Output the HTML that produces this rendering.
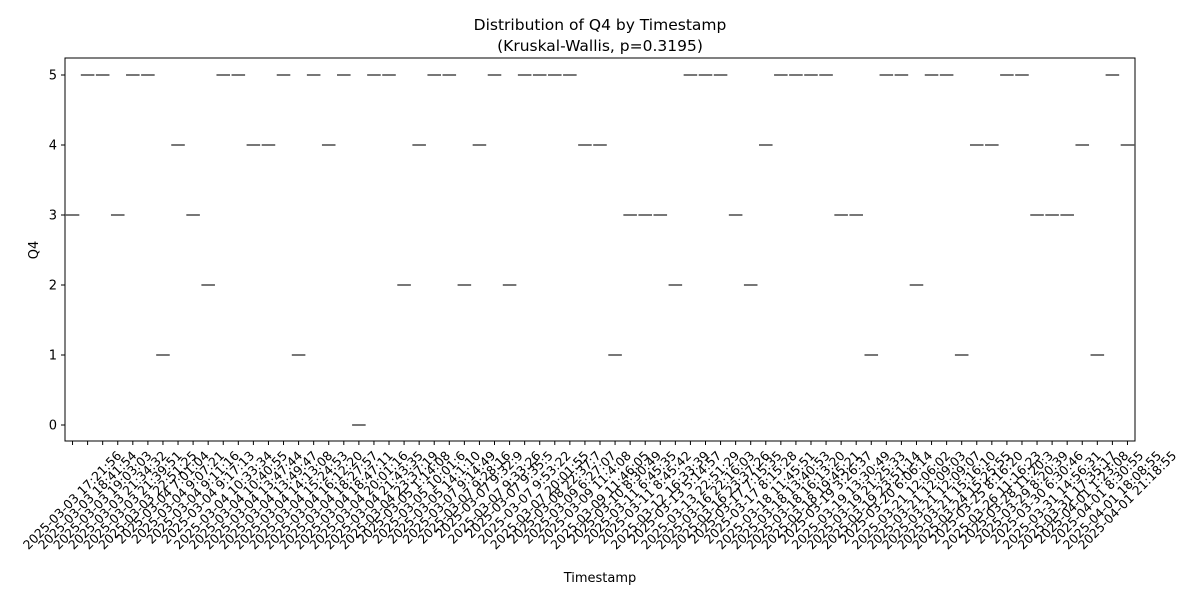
<!DOCTYPE html>
<html><head><meta charset="utf-8"><style>
body{margin:0;background:#fff;}
svg text{font-family:"DejaVu Sans","Liberation Sans",sans-serif;fill:#000;}
</style></head><body>
<svg id="chart" width="1200" height="600" xmlns="http://www.w3.org/2000/svg">
<rect width="1200" height="600" fill="#fff"/>
<text x="600" y="30" font-size="15.5" text-anchor="middle">Distribution of Q4 by Timestamp</text>
<text x="600" y="51" font-size="15.5" text-anchor="middle">(Kruskal-Wallis, p=0.3195)</text>
<g id="plot"></g>
<text x="600" y="582" font-size="13" text-anchor="middle">Timestamp</text>
<text x="0" y="0" font-size="13" text-anchor="middle" transform="translate(38,250) rotate(-90)">Q4</text>
</svg>
<script>
const values = [3,5,5,3,5,5,1,4,3,2,5,5,4,4,5,1,5,4,5,0,5,5,2,4,5,5,2,4,5,2,5,5,5,5,4,4,1,3,3,3,2,5,5,5,3,2,4,5,5,5,5,3,3,1,5,5,2,5,5,1,4,4,5,5,3,3,3,4,1,5,4];
const yTicks = [0,1,2,3,4,5];
const categories = ["2025-03-03 17:21:56","2025-03-03 18:41:54","2025-03-03 19:03:03","2025-03-03 21:34:32","2025-03-03 21:39:51","2025-03-03 22:51:25","2025-03-04 7:01:04","2025-03-04 9:07:21","2025-03-04 9:11:16","2025-03-04 9:17:13","2025-03-04 10:33:34","2025-03-04 10:40:55","2025-03-04 13:47:44","2025-03-04 13:49:47","2025-03-04 14:13:08","2025-03-04 15:24:53","2025-03-04 16:12:20","2025-03-04 18:27:57","2025-03-04 18:47:11","2025-03-04 20:01:16","2025-03-04 21:43:35","2025-03-04 23:37:19","2025-03-05 1:14:08","2025-03-05 10:01:6","2025-03-05 14:1:10","2025-03-07 9:14:49","2025-03-07 9:28:16","2025-03-07 9:32:9","2025-03-07 9:33:26","2025-03-07 9:35:5","2025-03-07 9:53:22","2025-03-07 20:01:55","2025-03-08 22:37:7","2025-03-09 6:27:07","2025-03-09 11:4:08","2025-03-09 11:46:05","2025-03-10 8:30:49","2025-03-11 6:45:35","2025-03-11 8:45:42","2025-03-12 16:33:39","2025-03-13 5:14:57","2025-03-13 22:51:29","2025-03-16 22:16:03","2025-03-16 23:37:26","2025-03-17 7:15:35","2025-03-17 8:15:28","2025-03-18 11:45:51","2025-03-18 13:40:53","2025-03-18 16:13:20","2025-03-18 19:45:21","2025-03-19 3:26:37","2025-03-19 13:30:49","2025-03-19 21:25:33","2025-03-19 23:51:14","2025-03-20 6:06:14","2025-03-21 12:06:02","2025-03-21 12:09:03","2025-03-21 12:09:07","2025-03-21 15:16:10","2025-03-24 15:25:55","2025-03-25 8:16:20","2025-03-26 11:16:23","2025-03-28 11:20:3","2025-03-29 8:20:39","2025-03-30 6:30:46","2025-03-31 14:56:31","2025-03-31 17:35:17","2025-04-01 1:23:08","2025-04-01 8:30:55","2025-04-01 18:08:55","2025-04-01 21:18:55"];

const NS='http://www.w3.org/2000/svg';
const L=65,R=1135,T=58,B=441;
const Y0=425,Y5=75;
const n=values.length, step=(R-L)/n;
const xPos=i=>L+step*(i+0.5);
const yPos=v=>Y0+(Y5-Y0)*(v/5);
const g=document.getElementById('plot');
function mk(tag,attrs){const e=document.createElementNS(NS,tag);for(const k in attrs)e.setAttribute(k,attrs[k]);g.appendChild(e);return e;}

const frame=mk('rect',{x:L,y:T,width:R-L,height:B-T,fill:'none',stroke:'#000','stroke-width':1});



yTicks.forEach(v=>{
  const t=mk('line',{x1:L-4,x2:L,y1:yPos(v),y2:yPos(v),stroke:'#000','stroke-width':1});
  
  
  const lb=mk('text',{x:L-8,y:yPos(v)+4.5,'font-size':13,'text-anchor':'end'});
  lb.textContent=v;
  
  
});

values.forEach((v,i)=>{
  const x=xPos(i);
  const m=mk('line',{x1:x-step*0.45,x2:x+step*0.45,y1:yPos(v),y2:yPos(v),stroke:'#555','stroke-width':1.6});
  
  
  const t=mk('line',{x1:x,x2:x,y1:B,y2:B+4,stroke:'#000','stroke-width':1});
  
  
  const lb=mk('text',{x:0,y:4,'font-size':12.5,'text-anchor':'middle'});
  lb.textContent=categories[i];
  
  
  const w=lb.getComputedTextLength();
  const cy=B+8+(w*0.707+13*0.707)/2;
  lb.setAttribute('transform',`translate(${x},${cy}) rotate(-45)`);
});
</script>
</body></html>
